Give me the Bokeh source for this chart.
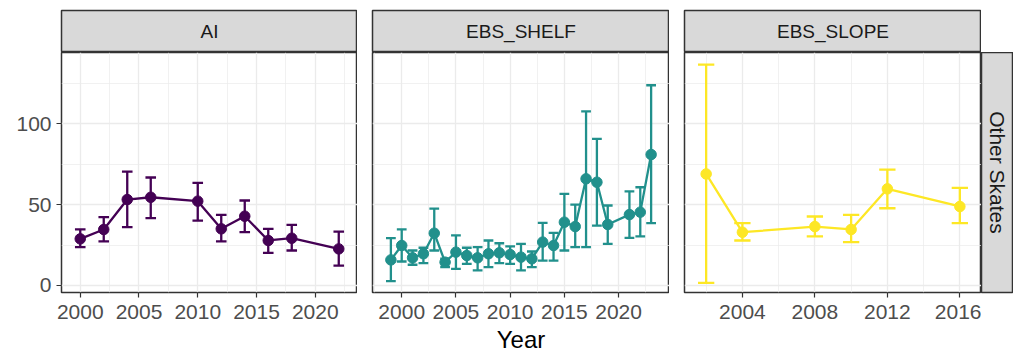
import math
from bokeh.plotting import figure
from bokeh.layouts import row, column
from bokeh.models import Range1d, FixedTicker, Label, Spacer, ColumnDataSource, Grid
from bokeh.embed import file_html
from bokeh.resources import INLINE

# ---------------- data ----------------
regions = ["AI", "EBS_SHELF", "EBS_SLOPE"]
colors = ["#440154", "#21908C", "#FDE725"]
species = "Other Skates"
x_title = "Year"

ai_year = [2000, 2002, 2004, 2006, 2010, 2012, 2014, 2016, 2018, 2022]
ai_est = [28.8, 34.6, 53.1, 54.5, 52.1, 35.0, 42.8, 27.8, 29.2, 22.6]
ai_lo = [23.7, 27.2, 36.0, 41.6, 40.1, 27.2, 32.9, 20.2, 21.6, 12.3]
ai_hi = [34.6, 42.2, 70.4, 66.7, 63.4, 43.6, 52.5, 35.0, 37.5, 33.3]

shelf_year = [1999, 2000, 2001, 2002, 2003, 2004, 2005, 2006, 2007, 2008, 2009, 2010,
              2011, 2012, 2013, 2014, 2015, 2016, 2017, 2018, 2019, 2021, 2022, 2023]
shelf_est = [15.8, 24.7, 17.1, 19.6, 32.3, 14.4, 20.6, 18.5, 17.1, 19.6, 20.2, 19.1,
             17.5, 16.5, 26.8, 24.7, 39.1, 36.4, 65.9, 63.8, 37.7, 43.8, 45.3, 80.9]
shelf_lo = [2.7, 14.8, 12.8, 13.8, 21.6, 11.3, 10.3, 13.4, 9.3, 11.3, 13.8, 13.4,
            9.3, 11.3, 15.4, 15.4, 21.6, 23.7, 23.7, 37.0, 25.7, 29.4, 30.3, 38.5]
shelf_hi = [29.2, 34.6, 21.6, 23.3, 47.5, 16.5, 30.9, 23.3, 23.7, 27.8, 26.1, 24.1,
            25.7, 21.0, 38.7, 32.5, 56.6, 50.0, 107.6, 90.6, 49.4, 58.2, 60.7, 123.7]

slope_year = [2002, 2004, 2008, 2010, 2012, 2016]
slope_est = [68.9, 32.9, 36.4, 34.6, 59.7, 48.8]
slope_lo = [1.6, 27.8, 30.3, 26.8, 47.7, 38.5]
slope_hi = [136.4, 38.5, 42.6, 43.6, 71.6, 60.3]

ai_ticks = [2000, 2005, 2010, 2015, 2020]
shelf_ticks = [2000, 2005, 2010, 2015, 2020]
slope_ticks = [2004, 2008, 2012, 2016]
y_ticks = [0, 50, 100]

series = [
    (ai_year, ai_est, ai_lo, ai_hi, ai_ticks),
    (shelf_year, shelf_est, shelf_lo, shelf_hi, shelf_ticks),
    (slope_year, slope_est, slope_lo, slope_hi, slope_ticks),
]

# ---------------- styling ----------------
FONT = "Liberation Sans"
CAP_W = 0.9          # errorbar width in years (ggplot default 0.9 * resolution)
TOP_GAP = 10
STRIP_H = 42
FRAME_H = 240
BOTTOM = 64
GRID = "#EBEBEB"
BORDER = "#333333"
TICK_TXT = "#4D4D4D"

all_lo = ai_lo + shelf_lo + slope_lo
all_hi = ai_hi + shelf_hi + slope_hi
y_span = max(all_hi) - min(all_lo)
y_range = (min(all_lo) - 0.05 * y_span + 0.8, max(all_hi) + 0.05 * y_span + 0.8)


def minor_of(ticks):
    step = ticks[1] - ticks[0]
    return [t - step / 2 for t in ticks] + [ticks[-1] + step / 2]


def make_panel(i, left_border, frame_w):
    yr, est, lo, hi, ticks = series[i]
    xmin = min(yr) - CAP_W / 2
    xmax = max(yr) + CAP_W / 2
    span = xmax - xmin
    p = figure(width=left_border + frame_w, height=FRAME_H + BOTTOM,
               x_range=Range1d(xmin - 0.05 * span, xmax + 0.05 * span),
               y_range=Range1d(*y_range),
               output_backend="svg", toolbar_location=None,
               y_axis_location="left" if i == 0 else None,
               min_border_left=left_border, min_border_right=0,
               min_border_top=0, min_border_bottom=BOTTOM)
    p.outline_line_color = BORDER
    p.outline_line_width = 1.5
    p.background_fill_color = "white"
    p.border_fill_color = "white"

    xt = FixedTicker(ticks=ticks, minor_ticks=minor_of(ticks))
    yt = FixedTicker(ticks=y_ticks, minor_ticks=minor_of(y_ticks))
    p.xaxis.ticker = xt
    for g in p.xgrid:
        g.ticker = xt
    if len(p.ygrid) == 0:
        p.add_layout(Grid(dimension=1, ticker=yt))
    for g in p.ygrid:
        g.ticker = yt
    for g in list(p.xgrid) + list(p.ygrid):
        g.grid_line_color = GRID
        g.grid_line_width = 1.3
        g.minor_grid_line_color = GRID
        g.minor_grid_line_width = 0.7

    axes = list(p.xaxis) + (list(p.yaxis) if i == 0 else [])
    for ax in axes:
        ax.axis_line_color = None
        ax.major_tick_line_color = BORDER
        ax.major_tick_line_width = 1.2
        ax.major_tick_out = 5
        ax.major_tick_in = 0
        ax.minor_tick_line_color = None
        ax.major_label_text_font = FONT
        ax.major_label_text_font_size = "21px"
        ax.major_label_text_color = TICK_TXT
        ax.major_label_standoff = 7
    if i == 0:
        p.yaxis.ticker = yt
        p.yaxis.major_label_standoff = 5
    if i == 1:
        p.xaxis.axis_label = x_title
        p.xaxis.axis_label_text_font = FONT
        p.xaxis.axis_label_text_font_size = "24px"
        p.xaxis.axis_label_text_font_style = "normal"
        p.xaxis.axis_label_text_color = "black"
        p.xaxis.axis_label_standoff = 4

    src = ColumnDataSource(dict(
        x=yr, y=est, lo=lo, hi=hi,
        x0=[v - CAP_W / 2 for v in yr], x1=[v + CAP_W / 2 for v in yr]))
    c = colors[i]
    p.line("x", "y", source=src, line_color=c, line_width=2.3)
    p.segment("x", "lo", "x", "hi", source=src, line_color=c, line_width=2.3)
    p.segment("x0", "hi", "x1", "hi", source=src, line_color=c, line_width=2.3)
    p.segment("x0", "lo", "x1", "lo", source=src, line_color=c, line_width=2.3)
    p.scatter("x", "y", source=src, size=10.5, fill_color=c, line_color=c)
    return p


def make_strip(text, width, height, left, top, bottom, angle=0.0, size="18px"):
    s = figure(width=width, height=height, x_range=Range1d(0, 1), y_range=Range1d(0, 1),
               output_backend="svg", toolbar_location=None,
               x_axis_location=None, y_axis_location=None,
               min_border_left=left, min_border_right=0,
               min_border_top=top, min_border_bottom=bottom)
    s.grid.visible = False
    s.background_fill_color = "#D9D9D9"
    s.border_fill_color = "white"
    s.outline_line_color = BORDER
    s.outline_line_width = 1.5
    s.add_layout(Label(x=0.5, y=0.5, text=text, text_align="center",
                       text_baseline="middle", angle=angle,
                       text_font=FONT, text_font_size=size, text_color="#1A1A1A"))
    return s


LEFTS = [61, 15, 15]
FRAMES = [296, 297, 297]
RSTRIP_W = 32

panels = [make_panel(i, LEFTS[i], FRAMES[i]) for i in range(3)]
strips = [make_strip(regions[i], LEFTS[i] + FRAMES[i], STRIP_H + TOP_GAP, LEFTS[i],
                     TOP_GAP, 0, size="19px")
          for i in range(3)]
rstrip = make_strip(species, RSTRIP_W, FRAME_H + BOTTOM, 0, 0, BOTTOM,
                    angle=-math.pi / 2, size="21px")

layout = column(
    row(*strips, Spacer(width=RSTRIP_W, height=STRIP_H + TOP_GAP), spacing=0),
    row(*panels, rstrip, spacing=0),
    spacing=0,
)

open("out.html", "w").write(file_html(layout, INLINE))
